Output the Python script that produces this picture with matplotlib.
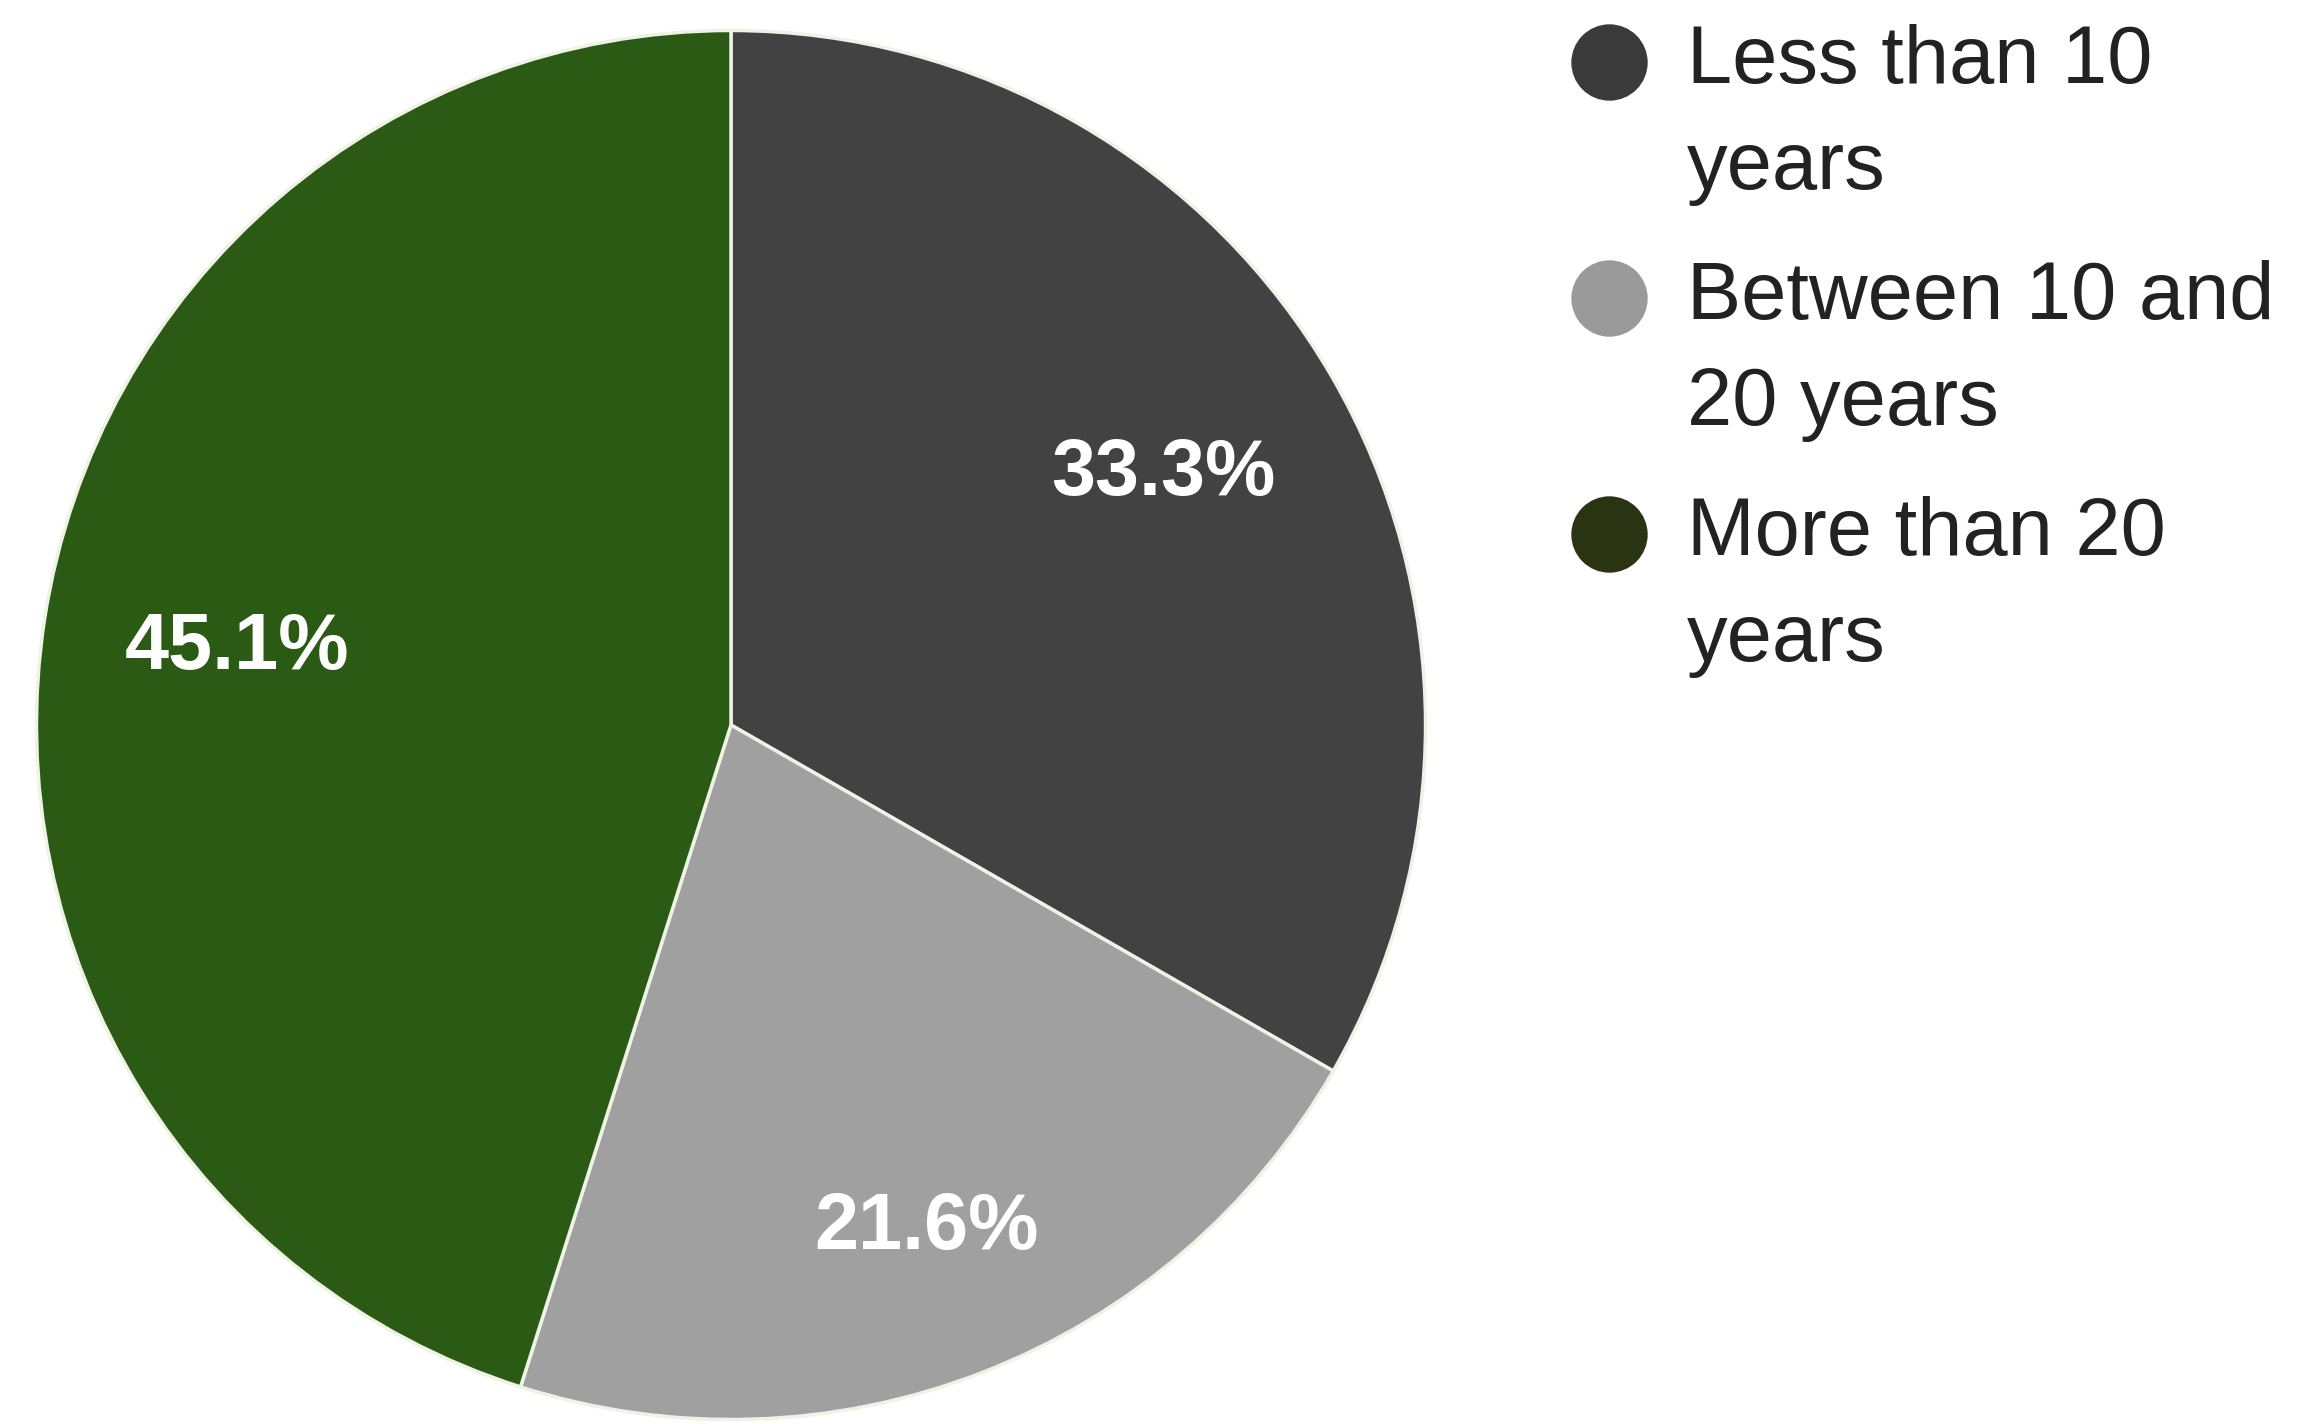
import matplotlib.pyplot as plt
from matplotlib.lines import Line2D

# data
categories = ["Less than 10\nyears", "Between 10 and\n20 years", "More than 20\nyears"]
shares = [33.3, 21.6, 45.1]
slice_colors = ["#424242", "#a0a0a0", "#2a5a14"]
legend_colors = ["#3a3a3a", "#9a9a9a", "#2a3412"]

plt.rcParams['font.family'] = ['Liberation Sans', 'DejaVu Sans']

W, H = 2300, 1424
fig = plt.figure(figsize=(W / 100, H / 100), dpi=100)

# pie axes: centre (731, 725) px, radius 698 px
cx, cy, r = 731, 725, 698
ax = fig.add_axes([(cx - r) / W, (H - cy - r) / H, 2 * r / W, 2 * r / H])
wedges, texts, autotexts = ax.pie(
    shares, colors=slice_colors, startangle=90, counterclock=False,
    autopct='%1.1f%%', pctdistance=0.72,
    wedgeprops=dict(edgecolor='#eef3e6', linewidth=2.5),
    textprops=dict(color='white', fontsize=57, fontweight='bold'))
# the small slice label sits a bit further out in the original
x0, y0 = autotexts[1].get_position()
autotexts[1].set_position((x0 * 1.08, y0 * 1.08))
ax.set_xlim(-1.005, 1.005)
ax.set_ylim(-1.005, 1.005)
ax.set_aspect('equal')
ax.axis('off')

# legend drawn by hand so the dot sits on the first text line
top = 62
step = 236
for i, (lab, col) in enumerate(zip(categories, legend_colors)):
    y = 1 - (top + i * step) / H
    fig.add_artist(Line2D([1609 / W], [y], marker='o', markersize=54,
                          color=col, transform=fig.transFigure))
    fig.text(1687 / W, y + 38 / H, lab, fontsize=58.5, color='#222222',
             va='top', ha='left', linespacing=1.5)

fig.savefig('out.png', dpi=100, facecolor='white')
